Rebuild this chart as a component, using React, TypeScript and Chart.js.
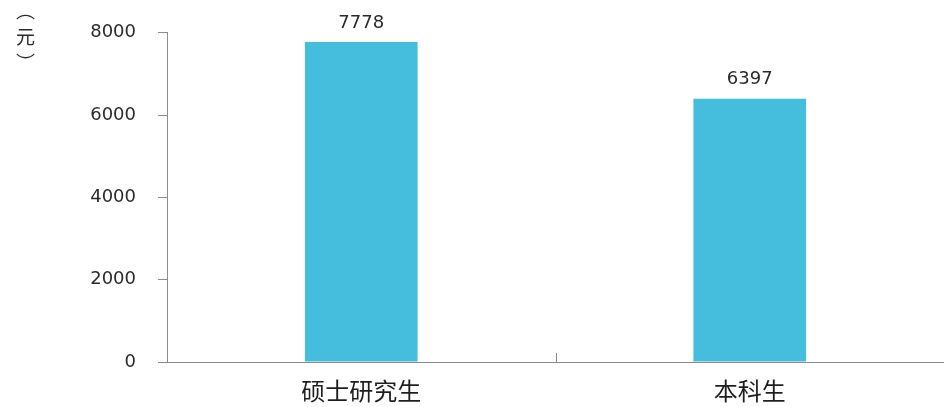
import React, { useEffect, useRef } from 'react';
import { Chart, registerables } from 'chart.js';

Chart.register(...registerables);

const categories = ['硕士研究生', '本科生'];
const salaries = [7778, 6397];
const yMax = 8000;
const yStep = 2000;
const yAxisTitle = '（元）';

export default function App() {
  const ref = useRef<HTMLCanvasElement>(null);

  useEffect(() => {
    document.body.style.margin = '0';
    const axisColor = '#8c8c8c';
    const numFont = '"DejaVu Sans", sans-serif';
    const cjkFont = '"Noto Sans CJK SC", sans-serif';

    const valueLabels = {
      id: 'valueLabels',
      afterDatasetsDraw(chart: any) {
        const ctx = chart.ctx;
        const meta = chart.getDatasetMeta(0);
        ctx.save();
        ctx.font = '18px ' + numFont;
        ctx.fillStyle = '#2b2b2b';
        ctx.textAlign = 'center';
        ctx.textBaseline = 'bottom';
        meta.data.forEach((bar: any, i: number) => {
          ctx.fillText(String(salaries[i]), bar.x, bar.y - 10);
        });
        ctx.restore();
      },
    };

    const boundaryTicks = {
      id: 'boundaryTicks',
      afterDraw(chart: any) {
        const ctx = chart.ctx;
        const xs = chart.scales.x;
        const area = chart.chartArea;
        ctx.save();
        ctx.strokeStyle = axisColor;
        ctx.lineWidth = 1;
        for (let i = 0; i < categories.length - 1; i++) {
          const bx = Math.round((xs.getPixelForValue(i) + xs.getPixelForValue(i + 1)) / 2) + 0.5;
          ctx.beginPath();
          ctx.moveTo(bx, area.bottom);
          ctx.lineTo(bx, area.bottom - 9);
          ctx.stroke();
        }
        ctx.restore();
      },
    };

    const chart = new Chart(ref.current as HTMLCanvasElement, {
      type: 'bar',
      data: {
        labels: categories,
        datasets: [
          {
            data: salaries,
            backgroundColor: '#45BEDD',
            borderWidth: 0,
            barPercentage: 0.29,
            categoryPercentage: 1,
          },
        ],
      },
      options: {
        animation: false,
        responsive: false,
        maintainAspectRatio: false,
        layout: { padding: { top: 31, right: 0, left: 0, bottom: 0 } },
        plugins: {
          legend: { display: false },
          tooltip: { enabled: false },
          title: { display: false },
        },
        scales: {
          x: {
            grid: { display: false },
            border: { display: true, color: axisColor, width: 1 },
            ticks: {
              color: '#1e1e1e',
              font: { family: cjkFont, size: 24 },
              padding: 6,
              maxRotation: 0,
            },
            afterFit(scale: any) {
              scale.height = 45;
            },
          },
          y: {
            min: 0,
            max: yMax,
            ticks: {
              stepSize: yStep,
              color: '#2b2b2b',
              font: { family: numFont, size: 18 },
              padding: 22,
              callback: (v: any) => String(v),
            },
            grid: {
              display: true,
              drawOnChartArea: false,
              drawTicks: true,
              tickLength: 9,
              color: axisColor,
            },
            border: { display: true, color: axisColor, width: 1 },
            afterFit(scale: any) {
              scale.width = 167;
            },
          },
        },
      },
      plugins: [valueLabels, boundaryTicks],
    });

    return () => chart.destroy();
  }, []);

  return (
    <div style={{ position: 'relative', width: 944, height: 407, background: '#ffffff' }}>
      <canvas ref={ref} width={944} height={407} style={{ display: 'block' }} />
      <div
        style={{
          position: 'absolute',
          left: 16,
          top: 1,
          writingMode: 'vertical-rl',
          letterSpacing: 7,
          fontFamily: '"Noto Sans CJK SC", sans-serif',
          fontSize: 19,
          lineHeight: 1,
          color: '#2b2b2b',
          whiteSpace: 'nowrap',
        }}
      >
        {yAxisTitle}
      </div>
    </div>
  );
}
